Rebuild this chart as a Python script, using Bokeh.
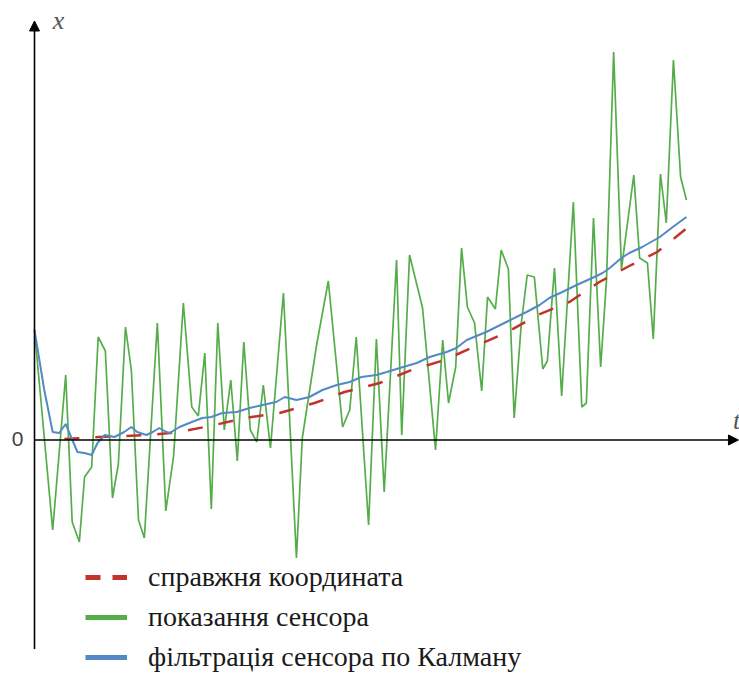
from bokeh.plotting import figure
from bokeh.models import Range1d, Arrow, NormalHead, Label, Legend, LegendItem, ColumnDataSource
from bokeh.embed import file_html
from bokeh.resources import INLINE

# ---- data (t in arbitrary time units, x in arbitrary units) ----
sensor_t = [0.00, 0.28, 0.48, 0.58, 0.69, 0.77, 0.88, 0.98, 1.09, 1.20, 1.29, 1.40, 1.49, 1.60, 1.69,
            1.89, 2.02, 2.14, 2.29, 2.42, 2.52, 2.62, 2.72, 2.82, 2.92, 3.02, 3.12, 3.22, 3.32, 3.42,
            3.52, 3.63, 3.83, 4.03, 4.12, 4.34, 4.52, 4.74, 4.85, 4.95, 5.14, 5.26, 5.38, 5.57, 5.65,
            5.77, 5.97, 6.17, 6.28, 6.37, 6.48, 6.57, 6.66, 6.77, 6.88, 6.97, 7.09, 7.18, 7.29, 7.38,
            7.49, 7.58, 7.69, 7.82, 7.89, 8.00, 8.11, 8.29, 8.42, 8.49, 8.60, 8.71, 8.80, 8.91, 9.03,
            9.22, 9.31, 9.43, 9.52, 9.63, 9.72, 9.83, 9.94, 10.03]
sensor_x = [1.10, -0.90, 0.65, -0.82, -1.02, -0.37, -0.27, 1.03, 0.89, -0.58, -0.24, 1.13, 0.70, -0.80, -0.98,
            1.17, -0.71, -0.16, 1.37, 0.33, 0.24, 0.87, -0.69, 1.17, 0.10, 0.60, -0.21, 0.98, 0.10, -0.02,
            0.55, -0.08, 1.47, -1.18, 0.02, 0.95, 1.59, 0.13, 0.30, 1.03, -0.85, 1.01, -0.52, 1.80, 0.05,
            1.85, 1.32, -0.10, 1.00, 0.37, 0.73, 1.92, 1.33, 1.17, 0.49, 1.43, 1.31, 1.90, 1.71, 0.22,
            1.17, 1.65, 1.63, 0.71, 0.79, 1.72, 0.44, 2.38, 0.33, 0.37, 2.22, 0.73, 1.60, 3.88, 1.71,
            2.65, 1.82, 1.77, 1.01, 2.66, 2.17, 3.80, 2.63, 2.40]

kalman_t = [0.00, 0.15, 0.28, 0.38, 0.48, 0.57, 0.66, 0.77, 0.88, 0.97, 1.08, 1.23, 1.38, 1.49, 1.58,
            1.72, 1.82, 1.92, 2.03, 2.08, 2.23, 2.42, 2.58, 2.72, 2.89, 3.11, 3.31, 3.51, 3.72, 3.85,
            4.03, 4.23, 4.43, 4.65, 4.85, 5.03, 5.26, 5.42, 5.62, 5.88, 6.08, 6.34, 6.49, 6.65, 6.95,
            7.26, 7.57, 7.77, 7.92, 8.12, 8.34, 8.58, 8.74, 8.85, 9.03, 9.15, 9.35, 9.62, 9.82, 10.03]
kalman_x = [1.10, 0.50, 0.08, 0.07, 0.16, 0.02, -0.12, -0.13, -0.15, -0.03, 0.05, 0.03, 0.08, 0.13, 0.08,
            0.05, 0.08, 0.12, 0.08, 0.07, 0.13, 0.18, 0.22, 0.23, 0.27, 0.28, 0.32, 0.35, 0.38, 0.43,
            0.40, 0.43, 0.50, 0.55, 0.58, 0.63, 0.65, 0.68, 0.72, 0.77, 0.83, 0.88, 0.92, 1.00, 1.08,
            1.18, 1.28, 1.35, 1.42, 1.48, 1.55, 1.62, 1.67, 1.72, 1.82, 1.87, 1.93, 2.03, 2.13, 2.23]

true_t = [0.46, 1.00, 1.77, 2.23, 2.77, 3.23, 3.77, 4.31, 4.77, 5.31, 5.80, 6.31, 6.82, 7.28, 7.74,
          8.23, 8.69, 9.15, 9.58, 10.02]
true_x = [0.01, 0.03, 0.05, 0.08, 0.15, 0.22, 0.27, 0.37, 0.48, 0.57, 0.70, 0.80, 0.95, 1.08, 1.25,
          1.38, 1.58, 1.74, 1.88, 2.11]

labels = ["справжня координата", "показання сенсора", "фільтрація сенсора по Калману"]

GREEN = "#55ad4a"
BLUE = "#5389c4"
RED = "#c3322c"

W, H = 739, 673
# page x = 34 + 65 t ; page y = 439.5 - 100 v
x0 = -34 / 65
x1 = x0 + W / 65
y1 = 4.395
y0 = y1 - H / 100

p = figure(width=W, height=H, output_backend="svg", toolbar_location=None,
           x_range=Range1d(x0, x1), y_range=Range1d(y0, y1),
           x_axis_location=None, y_axis_location=None, min_border=0)
p.outline_line_color = None
p.xgrid.visible = False
p.ygrid.visible = False
p.background_fill_color = "white"

# axes with arrows
p.add_layout(Arrow(x_start=0, y_start=-2.09, x_end=0, y_end=4.19, line_width=1.6, line_color="black",
                   end=NormalHead(size=10, fill_color="black", line_color="black")))
p.add_layout(Arrow(x_start=0, y_start=0, x_end=10.83, y_end=0, line_width=1.6, line_color="black",
                   end=NormalHead(size=10, fill_color="black", line_color="black")))

g = p.line(sensor_t, sensor_x, line_color=GREEN, line_width=1.7)
r = p.line(true_t, true_x, line_color=RED, line_width=2.5, line_dash="15 16")
b = p.line(kalman_t, kalman_x, line_color=BLUE, line_width=2.0)

# legend swatches (thicker than plot lines); sources hold no drawable point
nan = float("nan")
lr = p.line("x", "y", source=ColumnDataSource(data=dict(x=[nan], y=[nan])),
            line_color=RED, line_width=5, line_dash="15 12")
lg = p.line("x", "y", source=ColumnDataSource(data=dict(x=[nan], y=[nan])),
            line_color=GREEN, line_width=5)
lb = p.line("x", "y", source=ColumnDataSource(data=dict(x=[nan], y=[nan])),
            line_color=BLUE, line_width=5)

legend = Legend(items=[LegendItem(label=labels[0], renderers=[lr]),
                       LegendItem(label=labels[1], renderers=[lg]),
                       LegendItem(label=labels[2], renderers=[lb])],
                location=(85, 0), orientation="vertical",
                glyph_width=42, glyph_height=28, label_height=28, spacing=8,
                label_standoff=21, padding=0, margin=0,
                label_text_font="Liberation Serif", label_text_font_size="28px",
                label_text_color="#1a1a1a", label_text_baseline="middle",
                background_fill_alpha=0, border_line_alpha=0)
p.add_layout(legend, "center")

p.add_layout(Label(x=0.37, y=4.2, text="x", text_font="Liberation Serif", text_font_style="italic",
                   text_font_size="26px", text_color="#555555", text_align="center", text_baseline="middle"))
p.add_layout(Label(x=10.8, y=0.2, text="t", text_font="Liberation Serif", text_font_style="italic",
                   text_font_size="26px", text_color="#555555", text_align="center", text_baseline="middle"))
p.add_layout(Label(x=-0.26, y=0.01, text="0", text_font="Liberation Sans",
                   text_font_size="21px", text_color="#444444", text_align="center", text_baseline="middle"))

open("out.html", "w").write(file_html(p, INLINE))
